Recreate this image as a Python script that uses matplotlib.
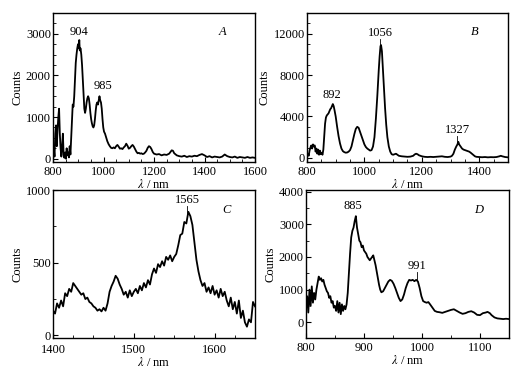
import matplotlib
matplotlib.use("Agg")
import matplotlib.pyplot as plt
from matplotlib.ticker import MultipleLocator

plt.rcParams['font.family'] = ['Liberation Serif', 'DejaVu Serif']
plt.rcParams['mathtext.fontset'] = 'stix'

# ---------------- Panel A ----------------
A_x = [800, 803, 806, 809, 812, 815, 818, 821, 824, 827, 830, 833, 836, 839, 842, 845, 848, 851, 854, 857,
       860, 863, 866, 869, 872, 875, 878, 881, 884, 887, 890, 893, 896, 899, 902, 904, 906, 909, 912, 915,
       918, 921, 924, 927, 930, 933, 936, 939, 942, 945, 948, 951, 954, 957, 960, 963, 966, 969, 972, 975,
       978, 981, 984, 987, 990, 993, 996, 999, 1002, 1006, 1010, 1015, 1020, 1025, 1030, 1035, 1040, 1045,
       1050, 1055, 1060, 1065, 1070, 1075, 1080, 1085, 1090, 1095, 1100, 1105, 1110, 1115, 1120, 1125, 1130,
       1135, 1140, 1145, 1150, 1155, 1160, 1165, 1170, 1175, 1180, 1185, 1190, 1195, 1200, 1210, 1220, 1230,
       1240, 1250, 1260, 1265, 1270, 1275, 1280, 1290, 1300, 1310, 1320, 1330, 1340, 1350, 1360, 1370, 1380,
       1390, 1400, 1410, 1420, 1430, 1440, 1450, 1460, 1470, 1480, 1490, 1500, 1510, 1520, 1530, 1540, 1550,
       1560, 1570, 1580, 1590, 1600]
A_y = [100, 250, 50, 600, 800, 300, 700, 1000, 1200, 600, 250, 50, 300, 600, 100, 20, 150, 0, 250, 80,
       150, 30, 300, 100, 500, 900, 1300, 1250, 1500, 1900, 2300, 2500, 2650, 2750, 2650, 2850, 2600, 2650, 2500, 2250,
       1900, 1500, 1200, 1100, 1200, 1350, 1450, 1500, 1450, 1300, 1100, 950, 850, 780, 750, 800, 950, 1150, 1300, 1350,
       1300, 1400, 1500, 1400, 1350, 1200, 950, 750, 650, 600, 520, 420, 350, 300, 260, 250, 270, 250,
       300, 330, 290, 240, 250, 230, 270, 300, 360, 310, 240, 260, 300, 330, 290, 230, 170,
       130, 140, 120, 130, 110, 120, 150, 190, 260, 300, 280, 230, 160, 120, 100, 110, 80,
       100, 90, 120, 160, 200, 190, 130, 80, 60, 50, 70, 40, 60, 50, 70, 60, 90,
       110, 80, 40, 60, 30, 50, 40, 30, 50, 100, 60, 40, 30, 50, 20, 40, 30,
       20, 40, 20, 30, 20]

# ---------------- Panel B ----------------
B_x = [800, 803, 806, 809, 812, 815, 818, 821, 824, 827, 830, 833, 836, 839, 842, 845, 848, 851, 854, 857,
       860, 863, 866, 869, 872, 875, 878, 881, 884, 887, 890, 893, 896, 900, 905, 910, 915, 920, 925, 930,
       935, 940, 945, 950, 955, 960, 965, 970, 975, 980, 985, 990, 995, 1000, 1005, 1010, 1015, 1020, 1025,
       1030, 1035, 1040, 1045, 1050, 1053, 1056, 1058, 1061, 1064, 1068, 1072, 1076, 1080, 1085, 1090, 1095,
       1100, 1105, 1110, 1115, 1120, 1130, 1140, 1150, 1160, 1170, 1175, 1180, 1185, 1190, 1200, 1210, 1220,
       1230, 1240, 1250, 1260, 1270, 1280, 1290, 1300, 1305, 1310, 1315, 1320, 1324, 1327, 1330, 1335, 1340,
       1345, 1350, 1355, 1360, 1365, 1370, 1375, 1380, 1385, 1390, 1400, 1410, 1420, 1430, 1440, 1450, 1460,
       1470, 1475, 1480, 1490, 1500]
B_y = [150, 400, 200, 700, 1000, 1200, 900, 1300, 1100, 1200, 600, 900, 400, 800, 300, 700, 350, 500, 300, 800,
       2000, 3300, 3900, 4100, 4200, 4300, 4500, 4700, 4800, 5000, 5200, 5000, 4600, 4000, 3000, 2100, 1400, 900, 650, 550,
       500, 520, 600, 750, 1100, 1700, 2300, 2800, 3000, 2900, 2500, 2100, 1700, 1300, 1050, 900, 800, 700, 750,
       1100, 2000, 3800, 6000, 8500, 9800, 10800, 10900, 10300, 8800, 6800, 4800, 3200, 2000, 1100, 600, 350,
       300, 350, 400, 300, 200, 150, 120, 100, 120, 200, 330, 400, 350, 250, 150, 100, 80,
       100, 80, 100, 120, 150, 100, 80, 120, 200, 400, 800, 1100, 1300, 1550, 1300, 1100, 900,
       800, 750, 700, 650, 600, 500, 380, 250, 150, 100, 80, 60, 80, 50, 70, 60, 80,
       150, 200, 150, 80, 50]

# ---------------- Panel C ----------------
C_x = [1400, 1402.5, 1405, 1407.5, 1410, 1412.5, 1415, 1417.5, 1420, 1422.5, 1425, 1427.5, 1430, 1432.5,
       1435, 1437.5, 1440, 1442.5, 1445, 1447.5, 1450, 1452.5, 1455, 1457.5, 1460, 1462.5, 1465, 1467.5,
       1470, 1472.5, 1475, 1477.5, 1480, 1482.5, 1485, 1487.5, 1490, 1492.5, 1495, 1497.5, 1500, 1502.5,
       1505, 1507.5, 1510, 1512.5, 1515, 1517.5, 1520, 1522.5, 1525, 1527.5, 1530, 1532.5, 1535, 1537.5,
       1540, 1542.5, 1545, 1547.5, 1550, 1552.5, 1555, 1557.5, 1560, 1562.5, 1565, 1567.5, 1570, 1572.5,
       1575, 1577.5, 1580, 1582.5, 1585, 1587.5, 1590, 1592.5, 1595, 1597.5, 1600, 1602.5, 1605, 1607.5,
       1610, 1612.5, 1615, 1617.5, 1620, 1622.5, 1625, 1627.5, 1630, 1632.5, 1635, 1637.5, 1640, 1642.5,
       1645, 1647.5, 1650]
C_y = [170, 150, 220, 190, 240, 200, 290, 270, 320, 300, 360, 340, 320, 300,
       280, 290, 250, 260, 230, 220, 200, 190, 170, 180, 165, 190, 170, 220,
       300, 340, 370, 410, 390, 350, 320, 280, 300, 260, 310, 270, 300, 320,
       290, 340, 310, 360, 330, 380, 350, 420, 460, 430, 490, 470, 510, 480,
       540, 520, 550, 510, 540, 560, 620, 690, 700, 780, 770, 850, 820, 760,
       640, 520, 440, 380, 340, 360, 300, 330, 290, 340, 280, 310, 260, 320,
       270, 300, 240, 200, 260, 180, 230, 150, 240, 120, 170, 90, 60, 110,
       90, 230, 200]

# ---------------- Panel D ----------------
D_x = [800, 802, 804, 806, 808, 810, 812, 814, 816, 818, 820, 822, 824, 826, 828, 830, 832, 834, 836, 838,
       840, 842, 844, 846, 848, 850, 852, 854, 856, 858, 860, 862, 864, 866, 868, 870, 872, 874, 876, 878,
       880, 882, 884, 886, 888, 890, 892, 894, 896, 898, 900, 902, 904, 906, 908, 910, 912, 914, 916, 918,
       920, 922, 924, 926, 928, 930, 933, 936, 939, 942, 945, 948, 951, 954, 957, 960, 963, 966, 969, 972,
       975, 978, 981, 984, 987, 990, 993, 996, 999, 1002, 1005, 1008, 1011, 1014, 1018, 1022, 1026, 1030,
       1035, 1040, 1045, 1050, 1055, 1060, 1065, 1070, 1075, 1080, 1085, 1090, 1095, 1100, 1105, 1110,
       1113, 1117, 1120, 1125, 1130, 1135, 1140, 1145, 1150]
D_y = [400, 800, 300, 1000, 500, 1100, 600, 900, 700, 1000, 1200, 1400, 1300, 1350, 1250, 1300, 1150, 1050, 950, 900,
       750, 800, 600, 650, 450, 500, 350, 650, 300, 600, 250, 550, 350, 500, 400, 550, 900, 1500, 2100, 2600,
       2800, 2900, 3100, 3250, 2900, 2700, 2500, 2450, 2300, 2350, 2200, 2150, 2100, 2000, 1950, 1900, 1950, 2000, 2050, 1900,
       1750, 1550, 1350, 1150, 1000, 920, 950, 1050, 1150, 1250, 1300, 1270, 1180, 1050, 900, 750, 650, 700, 850, 1050,
       1200, 1300, 1280, 1300, 1260, 1300, 1250, 1050, 800, 650, 620, 600, 620, 550, 450, 350, 320, 310,
       290, 320, 350, 380, 400, 350, 300, 260, 280, 320, 340, 300, 230, 220, 280, 300,
       320, 280, 220, 150, 120, 110, 100, 110, 100]

fig = plt.figure(figsize=(5.27, 3.77), dpi=100)

FS = 9
LW = 1.3

def style(ax, xlim, ylim, xmaj, xmin, ymaj, ymin, xpad=3):
    ax.set_xlim(*xlim)
    ax.set_ylim(*ylim)
    ax.xaxis.set_major_locator(MultipleLocator(xmaj))
    ax.xaxis.set_minor_locator(MultipleLocator(xmin))
    ax.yaxis.set_major_locator(MultipleLocator(ymaj))
    ax.yaxis.set_minor_locator(MultipleLocator(ymin))
    ax.tick_params(which='both', direction='in', top=False, right=False, labelsize=FS)
    ax.tick_params(axis='x', pad=xpad)
    ax.tick_params(axis='y', pad=1.5)
    ax.tick_params(which='major', length=3.5, width=0.8)
    ax.tick_params(which='minor', length=2, width=0.6)
    for s in ax.spines.values():
        s.set_linewidth(1.0)
    ax.set_xlabel(r'$\lambda$ / nm', fontsize=FS, labelpad=0)
    ax.set_ylabel('Counts', fontsize=FS, labelpad=2)

def ann(ax, x, ytext, y0, y1, label):
    ax.text(x, ytext, label, fontsize=FS, ha='center', va='bottom')
    if y0 is not None:
        ax.plot([x, x], [y0, y1], color='black', lw=0.6)

# A
axA = fig.add_axes([0.1006, 0.5703, 0.3833, 0.3952])
axA.plot(A_x, A_y, color='black', lw=LW)
style(axA, (800, 1600), (-80, 3500), 200, 50, 1000, 250)
ann(axA, 903, 2900, None, None, '904')
ann(axA, 996, 1590, None, None, '985')
axA.text(0.84, 0.87, 'A', transform=axA.transAxes, fontsize=FS, style='italic', ha='center', va='center')

# B
axB = fig.add_axes([0.5825, 0.5703, 0.3814, 0.3952])
axB.plot(B_x, B_y, color='black', lw=LW)
style(axB, (800, 1500), (-400, 14000), 200, 50, 4000, 1000)
ann(axB, 887, 5500, None, None, '892')
ann(axB, 1055, 11500, 11500, 10900, '1056')
ann(axB, 1323, 2100, 2100, 1550, '1327')
axB.text(0.835, 0.87, 'B', transform=axB.transAxes, fontsize=FS, style='italic', ha='center', va='center')

# C
axC = fig.add_axes([0.1006, 0.1034, 0.3833, 0.3926])
axC.plot(C_x, C_y, color='black', lw=LW)
style(axC, (1400, 1650), (-18, 1000), 100, 25, 500, 250, xpad=4)
ann(axC, 1566, 890, 890, 840, '1565')
axC.text(0.86, 0.865, 'C', transform=axC.transAxes, fontsize=FS, style='italic', ha='center', va='center')

# D
axD = fig.add_axes([0.5806, 0.1034, 0.3852, 0.3926])
axD.plot(D_x, D_y, color='black', lw=LW)
style(axD, (800, 1150), (-480, 4050), 100, 50, 1000, 500)
ann(axD, 880, 3380, None, None, '885')
ann(axD, 991, 1530, 1530, 1300, '991')
axD.text(0.85, 0.865, 'D', transform=axD.transAxes, fontsize=FS, style='italic', ha='center', va='center')

fig.savefig('out.png', dpi=100)
